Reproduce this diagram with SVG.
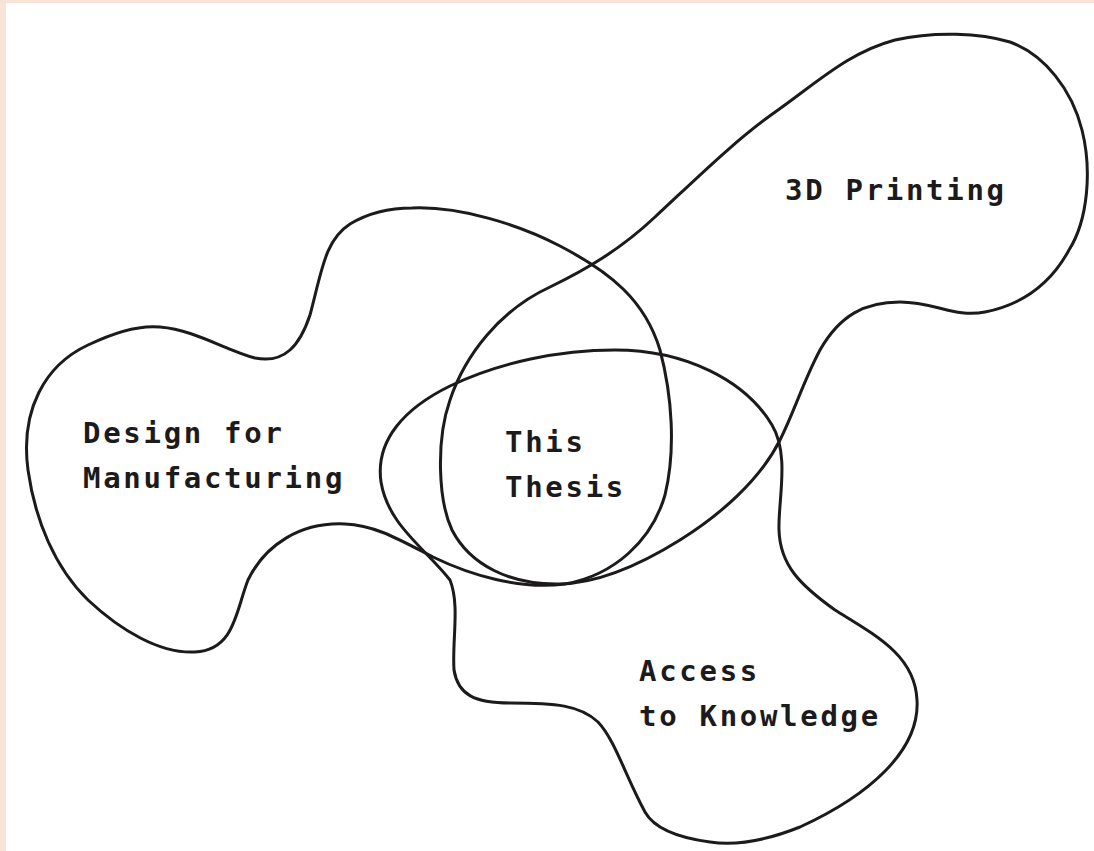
<svg xmlns="http://www.w3.org/2000/svg" width="1094" height="851" viewBox="0 0 1094 851">
<style>
.blob{fill:none;stroke:#1c1a1a;stroke-width:3;stroke-linejoin:round}
.lbl{font-family:"DejaVu Sans Mono","Liberation Mono",monospace;font-weight:bold;font-size:29px;letter-spacing:2.7px;fill:#1c1a1a}
</style>
<rect x="0" y="0" width="1094" height="851" fill="#f7e3d8"/>
<rect x="6" y="3" width="1088" height="848" fill="#ffffff"/>
<g id="dfm">
<path class="blob" d="M 412,208 C 460,206 520,225 560,246 C 610,272 645,300 660,350 C 672,395 676,450 665,495 C 652,540 615,575 565,584 C 520,590 470,575 433,557 C 400,540 375,525 345,524 C 300,522 265,545 248,580 C 236,610 235,650 195,652 C 160,654 120,630 88,600 C 55,568 35,520 28,470 C 20,410 45,365 88,345 C 115,332 140,325 160,327 C 195,330 225,350 255,358 C 285,364 300,345 310,315 C 322,270 325,240 350,224 C 370,212 390,208 412,208 Z"/>
<text class="lbl" x="83" y="443">Design for</text>
<text class="lbl" x="83" y="488">Manufacturing</text>
</g>
<g id="printing">
<path class="blob" d="M 560,584 C 510,585 470,565 452,530 C 438,500 436,440 450,400 C 465,355 500,310 550,287 C 585,270 620,250 655,217 C 695,180 735,140 778,110 C 820,80 850,52 895,40 C 935,31 980,33 1010,42 C 1045,55 1072,90 1082,130 C 1092,170 1088,220 1069,250 C 1050,285 1020,305 985,312 C 955,318 935,302 900,302 C 865,302 840,315 820,350 C 803,382 795,410 780,440 C 760,480 720,515 680,540 C 640,565 600,583 560,584 Z"/>
<text class="lbl" x="785" y="200">3D Printing</text>
</g>
<g id="access">
<path class="blob" d="M 450,580 C 425,548 388,525 381,482 C 375,440 405,408 450,386 C 500,362 560,350 615,350 C 685,350 745,380 772,425 C 790,455 778,500 779,530 C 780,565 800,585 835,610 C 875,635 915,655 917,700 C 920,750 870,795 800,827 C 760,843 730,845 710,842 C 680,838 655,830 645,812 C 625,775 615,740 598,722 C 580,705 555,703 510,703 C 475,703 458,695 454,670 C 452,640 460,605 450,580 Z"/>
<text class="lbl" x="639" y="681">Access</text>
<text class="lbl" x="639" y="726">to Knowledge</text>
</g>
<g id="thesis">
<text class="lbl" x="505" y="452">This</text>
<text class="lbl" x="505" y="497">Thesis</text>
</g>
</svg>
